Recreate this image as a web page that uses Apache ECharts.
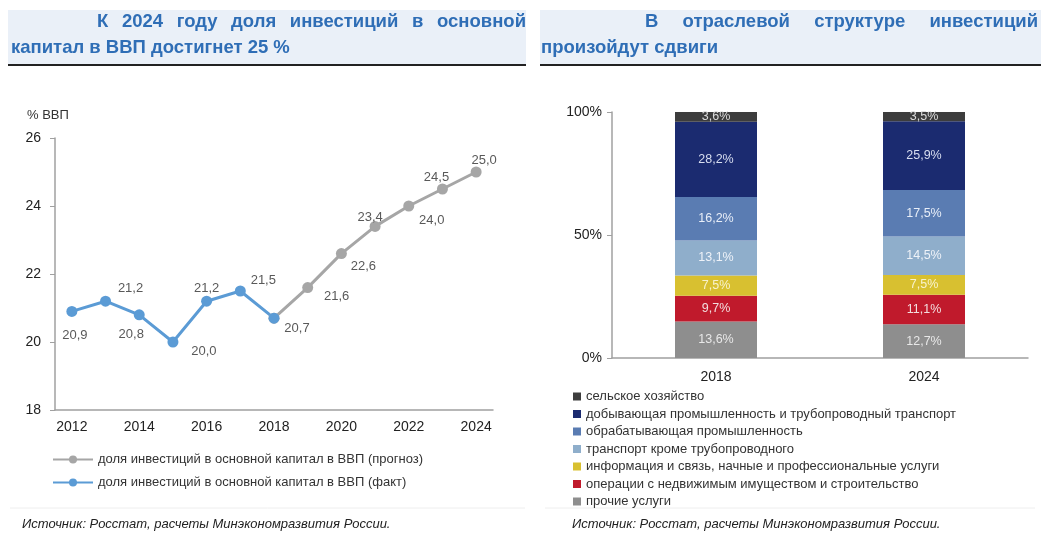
<!DOCTYPE html>
<html>
<head>
<meta charset="utf-8">
<script src="https://cdn.jsdelivr.net/npm/echarts@6/dist/echarts.min.js"></script>
<style>
  html, body { margin: 0; padding: 0; background: #fff; }
  #main { width: 1041px; height: 534px; }
</style>
</head>
<body>
<div id="main"></div>
<script>
// --- left chart data ---
var years = ['2012', '2013', '2014', '2015', '2016', '2017', '2018', '2019', '2020', '2021', '2022', '2023', '2024'];
var fact = [20.9, 21.2, 20.8, 20.0, 21.2, 21.5, 20.7, null, null, null, null, null, null];
var forecast = [null, null, null, null, null, null, 20.7, 21.6, 22.6, 23.4, 24.0, 24.5, 25.0];
var factName = 'доля инвестиций в основной капитал в ВВП (факт)';
var forecastName = 'доля инвестиций в основной капитал в ВВП (прогноз)';
var yTicksLeft = [18, 20, 22, 24, 26];

// label offsets around points (style)
var factOffsets = [[3, 24], [25, -13], [-8, 20], [31, 9], [0, -13], [23, -11], [23, 10]];
var forecastOffsets = {7: [29, 9], 8: [22, 13], 9: [-5, -9], 10: [23, 14], 11: [-6, -12], 12: [8, -12]};

// --- right chart data ---
var barYears = ['2018', '2024'];
var sectors = [
  'прочие услуги',
  'операции с недвижимым имуществом и строительство',
  'информация и связь, начные и профессиональные услуги',
  'транспорт кроме трубопроводного',
  'обрабатывающая промышленность',
  'добывающая промышленность и трубопроводный транспорт',
  'сельское хозяйство'
];
var shares2018 = [13.6, 9.7, 7.5, 13.1, 16.2, 28.2, 3.6];
var shares2024 = [12.7, 11.1, 7.5, 14.5, 17.5, 25.9, 3.5];
var sectorColors = ['#8e8e8e', '#c01a2c', '#d8c030', '#8faecb', '#5a7cb2', '#1b2b70', '#3d3d3d'];
var labelColors = ['#e8e8e8', '#f2dede', '#f8f2cc', '#eef2f8', '#e8eef8', '#d8def0', '#dcdcdc'];

var fmt = function (v) { return v.toFixed(1).replace('.', ','); };

var dom = document.getElementById('main');
var myChart = echarts.init(dom, null, { renderer: 'canvas' });

var sum18 = shares2018.reduce(function (a, b) { return a + b; }, 0);
var sum24 = shares2024.reduce(function (a, b) { return a + b; }, 0);

var barSeries = sectors.map(function (name, i) {
  return {
    name: name,
    type: 'bar',
    stack: 'total',
    xAxisIndex: 1,
    yAxisIndex: 1,
    barWidth: 82,
    itemStyle: { color: sectorColors[i] },
    label: {
      show: true,
      position: 'inside',
      color: labelColors[i],
      fontSize: 12.5,
      fontFamily: 'Arial',
      formatter: function (p) { return fmt(p.data.raw) + '%'; }
    },
    data: [
      { value: shares2018[i] / sum18 * 100, raw: shares2018[i] },
      { value: shares2024[i] / sum24 * 100, raw: shares2024[i] }
    ]
  };
});

var factData = fact.map(function (v, i) {
  if (v === null) return null;
  return { value: v, label: { offset: factOffsets[i] } };
});
var forecastData = forecast.map(function (v, i) {
  if (v === null) return null;
  if (!forecastOffsets[i]) return { value: v, label: { show: false } };
  return { value: v, label: { offset: forecastOffsets[i] } };
});

// titles: first line justified between two x positions
var titleFont = 'bold 18.5px Arial';
var titleColor = '#2f6eb6';
var ctx = document.createElement('canvas').getContext('2d');
ctx.font = titleFont;

function justified(text, x0, x1, y) {
  var words = text.split(' ');
  var widths = words.map(function (w) { return ctx.measureText(w).width; });
  var total = widths.reduce(function (a, b) { return a + b; }, 0);
  var gap = (x1 - x0 - total) / (words.length - 1);
  var x = x0, out = [];
  words.forEach(function (w, i) {
    out.push({ type: 'text', x: x, y: 22, style: { text: w, font: titleFont, fill: titleColor, textVerticalAlign: 'middle' } });
    x += widths[i] + gap;
  });
  return out;
}

var graphics = [
  { type: 'rect', shape: { x: 8, y: 10, width: 518, height: 55 }, style: { fill: '#eaf0f8' } },
  { type: 'rect', shape: { x: 540, y: 10, width: 501, height: 55 }, style: { fill: '#eaf0f8' } },
  { type: 'line', shape: { x1: 8, y1: 65, x2: 526, y2: 65 }, style: { stroke: '#222', lineWidth: 2 } },
  { type: 'line', shape: { x1: 540, y1: 65, x2: 1041, y2: 65 }, style: { stroke: '#222', lineWidth: 2 } },
  { type: 'text', x: 11, y: 48, style: { text: 'капитал в ВВП достигнет 25 %', font: titleFont, fill: titleColor, textVerticalAlign: 'middle' } },
  { type: 'text', x: 541, y: 48, style: { text: 'произойдут сдвиги', font: titleFont, fill: titleColor, textVerticalAlign: 'middle' } },
  { type: 'text', x: 27, y: 115, style: { text: '% ВВП', font: '13px Arial', fill: '#333', textVerticalAlign: 'middle' } },
  { type: 'line', shape: { x1: 10, y1: 508, x2: 525, y2: 508 }, style: { stroke: '#eeeeee', lineWidth: 1 } },
  { type: 'line', shape: { x1: 545, y1: 508, x2: 1035, y2: 508 }, style: { stroke: '#eeeeee', lineWidth: 1 } },
  { type: 'text', x: 22, y: 524, style: { text: 'Источник: Росстат, расчеты Минэкономразвития России.', font: 'italic 13px Arial', fill: '#222', textVerticalAlign: 'middle' } },
  { type: 'text', x: 572, y: 524, style: { text: 'Источник: Росстат, расчеты Минэкономразвития России.', font: 'italic 13px Arial', fill: '#222', textVerticalAlign: 'middle' } }
];
graphics = graphics
  .concat(justified('К 2024 году доля инвестиций в основной', 97, 526, 22))
  .concat(justified('В отраслевой структуре инвестиций', 645, 1038, 22));

var option = {
  animation: false,
  textStyle: { fontFamily: 'Arial' },
  graphic: graphics,
  legend: [
    {
      data: [forecastName, factName],
      orient: 'vertical',
      left: 47,
      top: 448,
      itemWidth: 40,
      itemHeight: 10,
      itemGap: 10,
      textStyle: { fontSize: 13, color: '#333' }
    },
    {
      data: sectors.slice().reverse(),
      orient: 'vertical',
      left: 568,
      top: 385,
      icon: 'rect',
      itemWidth: 8,
      itemHeight: 8,
      itemGap: 4.5,
      textStyle: { fontSize: 13, color: '#333' }
    }
  ],
  grid: [
    { left: 55, right: 548, top: 138, bottom: 124 },
    { left: 612, right: 13, top: 112, bottom: 176 }
  ],
  xAxis: [
    {
      type: 'category',
      gridIndex: 0,
      data: years,
      boundaryGap: true,
      axisLine: { lineStyle: { color: '#a0a0a0', width: 1.5 } },
      axisTick: { interval: 1, length: 5, lineStyle: { color: '#a0a0a0' } },
      axisLabel: { interval: 1, fontSize: 14, color: '#222', margin: 10 }
    },
    {
      type: 'category',
      gridIndex: 1,
      data: barYears,
      axisLine: { lineStyle: { color: '#a0a0a0', width: 1.5 } },
      axisTick: { length: 5, lineStyle: { color: '#a0a0a0' } },
      axisLabel: { fontSize: 14, color: '#222', margin: 12 }
    }
  ],
  yAxis: [
    {
      type: 'value',
      gridIndex: 0,
      min: yTicksLeft[0],
      max: yTicksLeft[yTicksLeft.length - 1],
      interval: 2,
      axisLine: { show: true, lineStyle: { color: '#a0a0a0', width: 1.5 } },
      axisTick: { show: true, length: 5, lineStyle: { color: '#a0a0a0' } },
      splitLine: { show: false },
      axisLabel: { fontSize: 14, color: '#222', margin: 14 }
    },
    {
      type: 'value',
      gridIndex: 1,
      min: 0,
      max: 100,
      interval: 50,
      axisLine: { show: true, lineStyle: { color: '#a0a0a0', width: 1.5 } },
      axisTick: { show: true, length: 5, lineStyle: { color: '#a0a0a0' } },
      splitLine: { show: false },
      axisLabel: { fontSize: 14, color: '#222', margin: 10, formatter: '{value}%' }
    }
  ],
  series: [
    {
      name: forecastName,
      type: 'line',
      xAxisIndex: 0,
      yAxisIndex: 0,
      data: forecastData,
      symbol: 'circle',
      symbolSize: 11,
      color: '#a6a6a6',
      lineStyle: { width: 3, color: '#a6a6a6' },
      label: {
        show: true,
        position: 'inside',
        fontSize: 13,
        color: '#595959',
        formatter: function (p) { return fmt(p.value); }
      }
    },
    {
      name: factName,
      type: 'line',
      xAxisIndex: 0,
      yAxisIndex: 0,
      data: factData,
      symbol: 'circle',
      symbolSize: 11,
      color: '#5b9bd5',
      lineStyle: { width: 3, color: '#5b9bd5' },
      label: {
        show: true,
        position: 'inside',
        fontSize: 13,
        color: '#595959',
        formatter: function (p) { return fmt(p.value); }
      }
    }
  ].concat(barSeries)
};

if (option && typeof option === 'object') {
  myChart.setOption(option);
}
</script>
</body>
</html>
